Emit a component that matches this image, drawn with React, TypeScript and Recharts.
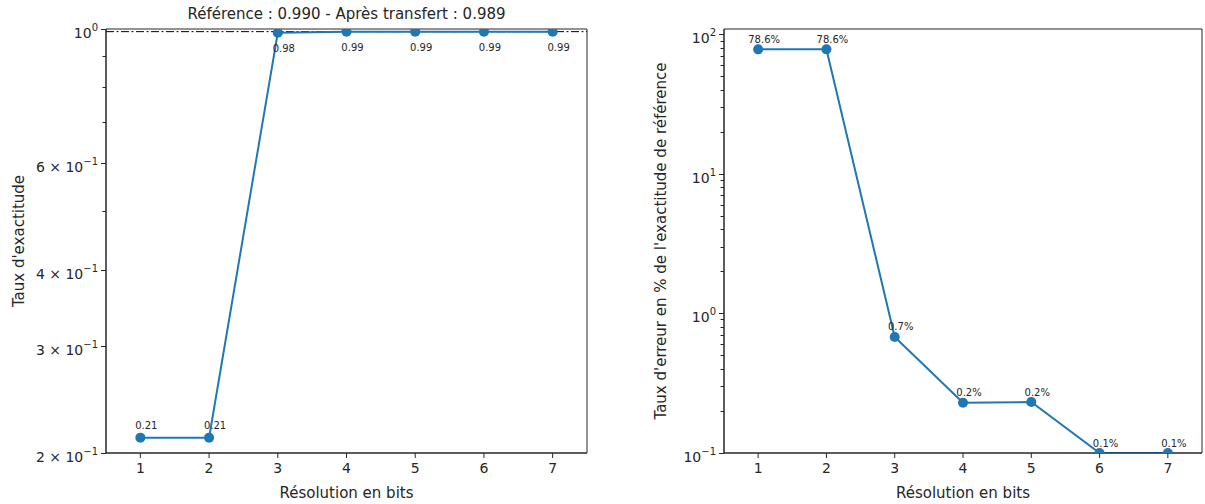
import React from 'react';
import { LineChart, Line, XAxis, YAxis, ReferenceLine, ReferenceArea, LabelList, Label } from 'recharts';

const bits = [1, 2, 3, 4, 5, 6, 7];
const accuracy = [0.212, 0.212, 0.986, 0.99, 0.99, 0.99, 0.99];
const accuracyLabels = ['0.21', '0.21', '0.98', '0.99', '0.99', '0.99', '0.99'];
const errorPct = [78.6, 78.6, 0.68, 0.229, 0.232, 0.1, 0.1];
const errorLabels = ['78.6%', '78.6%', '0.7%', '0.2%', '0.2%', '0.1%', '0.1%'];
const referenceAccuracy = 0.99;
const titleText = 'Référence : 0.990 - Après transfert : 0.989';
const xLabel = 'Résolution en bits';
const leftYLabel = "Taux d'exactitude";
const rightYLabel = "Taux d'erreur en % de l'exactitude de référence";
const leftMajorTicks = [0.2, 0.3, 0.4, 0.6, 1];
const leftMinorTicks = [0.5, 0.7, 0.8, 0.9];
const leftTickMantissa = ['2', '3', '4', '6', ''];
const rightMajorTicks = [0.1, 1, 10, 100];
const rightMajorExp = ['−1', '0', '1', '2'];
const rightMinorTicks = [0.2, 0.3, 0.4, 0.5, 0.6, 0.7, 0.8, 0.9, 2, 3, 4, 5, 6, 7, 8, 9, 20, 30, 40, 50, 60, 70, 80, 90];

const FONT = 'DejaVu Sans, sans-serif';
const INK = '#262626';
const BLUE = '#1f77b4';

const rows = bits.map((b, i) => ({
  bit: b,
  acc: accuracy[i],
  accLabel: accuracyLabels[i],
  err: errorPct[i],
  errLabel: errorLabels[i],
}));

function makeTick(axisX: number, majors: number[], mantissa: string[], exps: string[] | null) {
  return (p: any) => {
    const { y, payload } = p;
    const v = payload.value;
    const idx = majors.findIndex((m) => Math.abs(m - v) < 1e-9);
    const isMajor = idx >= 0;
    let base = '';
    let exp = '';
    if (isMajor) {
      if (exps) {
        base = '10';
        exp = exps[idx];
      } else {
        const m = mantissa[idx];
        base = m ? `${m} × 10` : '10';
        exp = m ? '−1' : '0';
      }
    }
    const len = isMajor ? 5 : 3.5;
    return (
      <g>
        <rect x={axisX - len} y={Math.floor(y)} width={len} height={1} fill={INK} />
        {isMajor && (
          <text x={axisX - 8} y={y + 3.5} textAnchor="end" dominantBaseline="central" fontSize={14} fontFamily={FONT} fill={INK}>
            {base}
            <tspan dy={-6} fontSize={10}>{exp}</tspan>
          </text>
        )}
      </g>
    );
  };
}

const leftLabelContent = (p: any) => {
  const { x, y, index } = p;
  const txt = accuracyLabels[index];
  const above = accuracy[index] < 0.5;
  return (
    <text x={x + 6} y={above ? y - 12 : y + 16} textAnchor="middle" dominantBaseline="central" fontSize={10} fontFamily={FONT} fill={INK}>
      {txt}
    </text>
  );
};

const rightLabelContent = (p: any) => {
  const { x, y, index } = p;
  return (
    <text x={x + 6} y={y - 10} textAnchor="middle" dominantBaseline="central" fontSize={10} fontFamily={FONT} fill={INK}>
      {errorLabels[index]}
    </text>
  );
};

export default function App() {
  return (
    <div style={{ position: 'absolute', left: 0, top: 0, width: 1205, height: 504, background: '#fff', fontFamily: FONT }}>
      <div style={{ position: 'absolute', left: 106, top: 5, width: 481, textAlign: 'center', fontSize: 15, lineHeight: '18px', color: INK }}>
        {titleText}
      </div>
      <div style={{ position: 'absolute', left: 0, top: 0 }}>
        <LineChart width={600} height={504} data={rows} margin={{ top: 29, right: 13, bottom: 0, left: 0 }}>
          <XAxis
            type="number"
            dataKey="bit"
            domain={[0.5, 7.5]}
            ticks={bits}
            height={51}
            tickSize={5}
            tickMargin={5}
            axisLine={{ stroke: INK }}
            tickLine={{ stroke: INK }}
            tick={{ fontSize: 14, fill: INK, fontFamily: FONT }}
          >
            <Label value={xLabel} position="insideBottom" offset={6} style={{ fontSize: 15, fill: INK, fontFamily: FONT }} />
          </XAxis>
          <YAxis
            scale="log"
            domain={[0.2, 1]}
            allowDataOverflow
            ticks={[...leftMajorTicks, ...leftMinorTicks]}
            width={106}
            tickSize={0}
            tickMargin={0}
            tickLine={false}
            interval={0}
            axisLine={{ stroke: INK }}
            tick={makeTick(106, leftMajorTicks, leftTickMantissa, null)}
          >
            <Label
              content={() => (
                <text x={19} y={241} transform="rotate(-90 19 241)" textAnchor="middle" dominantBaseline="central" fontSize={15} fontFamily={FONT} fill={INK}>
                  {leftYLabel}
                </text>
              )}
            />
          </YAxis>
          <ReferenceArea x1={0.5} x2={7.5} y1={0.2} y2={1} fill="none" stroke={INK} strokeWidth={1} ifOverflow="visible" />
          <ReferenceLine y={referenceAccuracy} stroke="#000" strokeWidth={1} strokeDasharray="8 2.5 2 2.5" />
          <Line
            dataKey="acc"
            stroke={BLUE}
            strokeWidth={2}
            dot={{ r: 5, fill: BLUE, stroke: BLUE, strokeWidth: 0 }}
            isAnimationActive={false}
          >
            <LabelList dataKey="accLabel" content={leftLabelContent} />
          </Line>
        </LineChart>
      </div>
      <div style={{ position: 'absolute', left: 600, top: 0 }}>
        <LineChart width={605} height={504} data={rows} margin={{ top: 29, right: 3, bottom: 0, left: 0 }}>
          <XAxis
            type="number"
            dataKey="bit"
            domain={[0.5, 7.5]}
            ticks={bits}
            height={51}
            tickSize={5}
            tickMargin={5}
            axisLine={{ stroke: INK }}
            tickLine={{ stroke: INK }}
            tick={{ fontSize: 14, fill: INK, fontFamily: FONT }}
          >
            <Label value={xLabel} position="insideBottom" offset={6} style={{ fontSize: 15, fill: INK, fontFamily: FONT }} />
          </XAxis>
          <YAxis
            scale="log"
            domain={[0.1, 110]}
            allowDataOverflow
            ticks={[...rightMajorTicks, ...rightMinorTicks]}
            width={124}
            tickSize={0}
            tickMargin={0}
            tickLine={false}
            interval={0}
            axisLine={{ stroke: INK }}
            tick={makeTick(124, rightMajorTicks, [], rightMajorExp)}
          >
            <Label
              content={() => (
                <text x={61} y={241} transform="rotate(-90 61 241)" textAnchor="middle" dominantBaseline="central" fontSize={15} fontFamily={FONT} fill={INK}>
                  {rightYLabel}
                </text>
              )}
            />
          </YAxis>
          <ReferenceArea x1={0.5} x2={7.5} y1={0.1} y2={110} fill="none" stroke={INK} strokeWidth={1} ifOverflow="visible" />
          <Line
            dataKey="err"
            stroke={BLUE}
            strokeWidth={2}
            dot={{ r: 5, fill: BLUE, stroke: BLUE, strokeWidth: 0 }}
            isAnimationActive={false}
          >
            <LabelList dataKey="errLabel" content={rightLabelContent} />
          </Line>
        </LineChart>
      </div>
    </div>
  );
}
